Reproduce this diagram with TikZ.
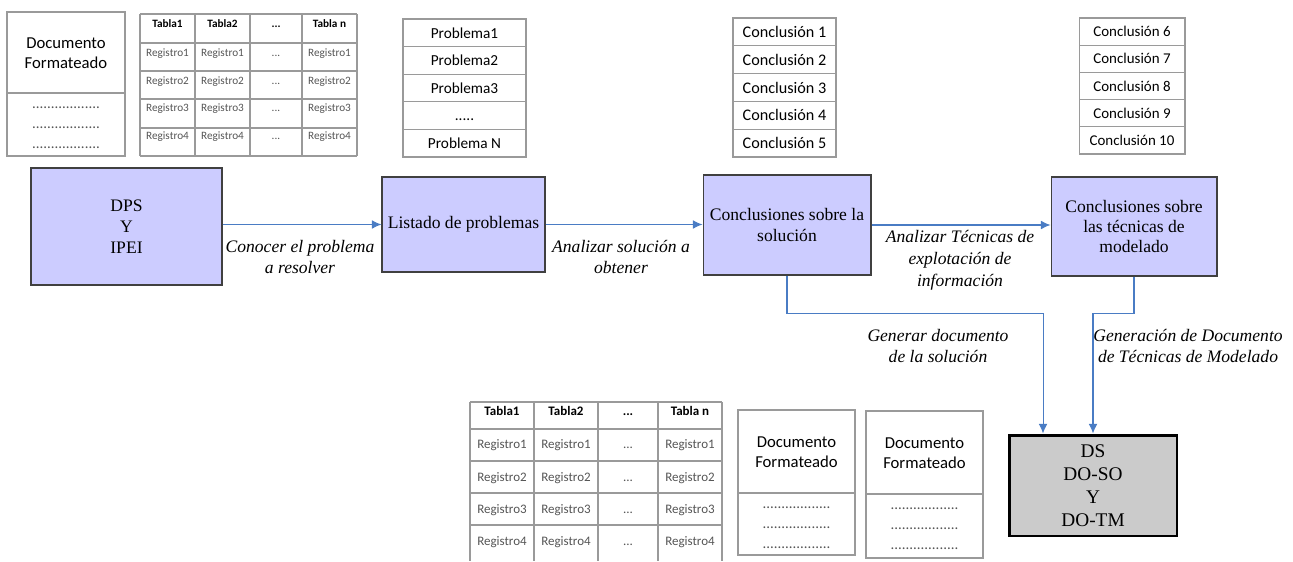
\documentclass[tikz,border=0pt]{standalone}
\usepackage{fontspec}
\setmainfont{Liberation Serif}
\newfontfamily\calib{Carlito}
\usepackage{tikz}
\usetikzlibrary{arrows.meta}
\definecolor{lav}{HTML}{CCCCFF}
\definecolor{boxline}{HTML}{404040}
\definecolor{flowblue}{HTML}{4A7CC4}
\definecolor{gridgray}{HTML}{9A9A9A}
\definecolor{regtext}{HTML}{555555}
\definecolor{dsfill}{HTML}{CBCBCB}
\newcommand\probdots{\vphantom{P}.....}
\newcommand\celldots{...}
\newcommand\rowdots{..................}

\begin{document}
\begin{tikzpicture}[x=0.02cm, y=-0.02cm]
\useasboundingbox (0,0) rectangle (1293,561);
\tikzstyle{proc} = [draw=boxline, line width=0.6pt, fill=lav, inner sep=0pt, align=center, font=\fontsize{10}{11.5}\selectfont]
\tikzstyle{lbl} = [inner sep=0pt, align=center, font=\itshape\fontsize{10}{12.4}\selectfont]
\tikzstyle{cell} = [draw=gridgray, line width=0.6pt, fill=white, inner sep=0pt]
\tikzstyle{tabline} = [gridgray, line width=0.6pt]
\tikzstyle{tabtext} = [inner sep=0pt, text height=1.6ex, text depth=0.4ex]
\tikzstyle{dotrow} = [inner sep=0pt, font=\calib\fontsize{8.5}{9}\selectfont, text=regtext]
\tikzstyle{flow} = [draw=flowblue, line width=0.6pt, -{Latex[length=5.5pt,width=5pt]}]

% main process boxes
\node[proc, minimum width=3.82cm, minimum height=2.34cm, font=\fontsize{10}{12}\selectfont] (dps) at (126.5,226.5) {DPS\\Y\\IPEI};
\node[proc, minimum width=3.26cm, minimum height=1.9cm] (lis) at (463.5,224.5) {Listado de problemas};
\node[proc, minimum width=3.36cm, minimum height=2cm] (sol) at (787,225) {Conclusiones sobre la\\solución};
\node[proc, minimum width=3.32cm, minimum height=1.98cm] (tec) at (1134,226.5) {Conclusiones sobre\\las técnicas de\\modelado};
\node[draw=black, line width=1.7pt, fill=dsfill, inner sep=0pt, minimum width=3.36cm, minimum height=2.02cm, align=center, font=\fontsize{11}{13}\selectfont] (ds) at (1093,485.5) {DS\\DO-SO\\Y\\DO-TM};

% connectors
\coordinate (dsin) at ([xshift=-1cm]ds.north);
\draw[flow] (dps.east |- lis.west) -- (lis.west);
\draw[flow] (lis.east) -- (lis.east -| sol.west);
\draw[flow] (sol.east) -- (sol.east -| tec.west);
\draw[flow] (sol.south) -- ++(0,38) -| (dsin);
\draw[flow] (tec.south) -- ++(0,37) -| (ds.north);

% connector labels
\node[lbl] (l1) at (300,257) {Conocer el problema\\a resolver};
\node[lbl] (l2) at (621,257) {Analizar solución a\\obtener};
\node[lbl] (l3) at (960,260) {Analizar Técnicas de\\explotación de\\información};
\node[lbl] (l4) at (938,346) {Generar documento\\de la solución};
\node[lbl] (l5) at (1188,346) {Generación de Documento\\de Técnicas de Modelado};

% lists
\foreach \txt [count=\i] in {Problema1,Problema2,Problema3,\probdots,Problema N}
  \node[cell, minimum width=2.46cm, minimum height=0.552cm, font=\calib\fontsize{8.7}{10}\selectfont] (p\i) at (464.5,{19+27.6*(\i-0.5)}) {\txt};
\foreach \i in {1,...,5}
  \node[cell, minimum width=2.06cm, minimum height=0.556cm, font=\calib\fontsize{9.2}{10}\selectfont] (c\i) at (784.5,{18+27.8*(\i-0.5)}) {Conclusión \i};
\foreach \i in {6,...,10}
  \node[cell, minimum width=2.12cm, minimum height=0.544cm, font=\calib\fontsize{8.5}{10}\selectfont] (c\i) at (1132,{18+27.2*(\i-5.5)}) {Conclusión \i};

% top table
\foreach \x in {140,195,250,302,357} \draw[tabline] (\x,14) -- (\x,156);
\foreach \y in {14,43,71,99,128,156} \draw[tabline] (140,\y) -- (357,\y);
\foreach \cx [count=\j] in {167.5,222.5,276,329.5} {
  \node[tabtext, font=\calib\bfseries\fontsize{6.4}{7}\selectfont] (ha\j) at (\cx,23) {\ifnum\j=3 \celldots\else\ifnum\j=4 Tabla n\else Tabla\j\fi\fi};
  \foreach \rr/\ry in {1/52,2/80,3/107,4/135}
    \node[tabtext, text=regtext, font=\calib\fontsize{6.4}{7}\selectfont] (ra\j\rr) at (\cx,\ry) {\ifnum\j=3 \celldots\else Registro\rr\fi};
}

% bottom table
\foreach \x in {470,534,598,658,722} \draw[tabline] (\x,402) -- (\x,561);
\foreach \y in {402,429,461,493,525} \draw[tabline] (470,\y) -- (722,\y);
\foreach \cx [count=\j] in {502,566,628,690} {
  \node[tabtext, font=\calib\bfseries\fontsize{7.4}{8}\selectfont] (hb\j) at (\cx,411) {\ifnum\j=3 \celldots\else\ifnum\j=4 Tabla n\else Tabla\j\fi\fi};
  \foreach \rr/\ry in {1/444,2/477,3/509,4/541}
    \node[tabtext, text=regtext, font=\calib\fontsize{7.4}{8}\selectfont] (rb\j\rr) at (\cx,\ry) {\ifnum\j=3 \celldots\else Registro\rr\fi};
}

% formatted documents
\foreach \xa/\xb/\ya/\ym/\yb [count=\k] in {7/125/12/93/156,738/855/410/493/555,866/983/411/494/558} {
  \draw[tabline] (\xa,\ya) rectangle (\xb,\yb);
  \draw[tabline] (\xa,\ym) -- (\xb,\ym);
  \node[inner sep=0pt, align=center, font=\calib\fontsize{9.5}{11.5}\selectfont] (doc\k) at ({(\xa+\xb)/2},{(\ya+\ym)/2+1}) {Documento\\Formateado};
  \foreach \d in {1,2,3}
    \node[dotrow] (dot\k\d) at ({(\xa+\xb)/2},{\ym+20*\d-5}) {\rowdots};
}
\end{tikzpicture}
\end{document}
